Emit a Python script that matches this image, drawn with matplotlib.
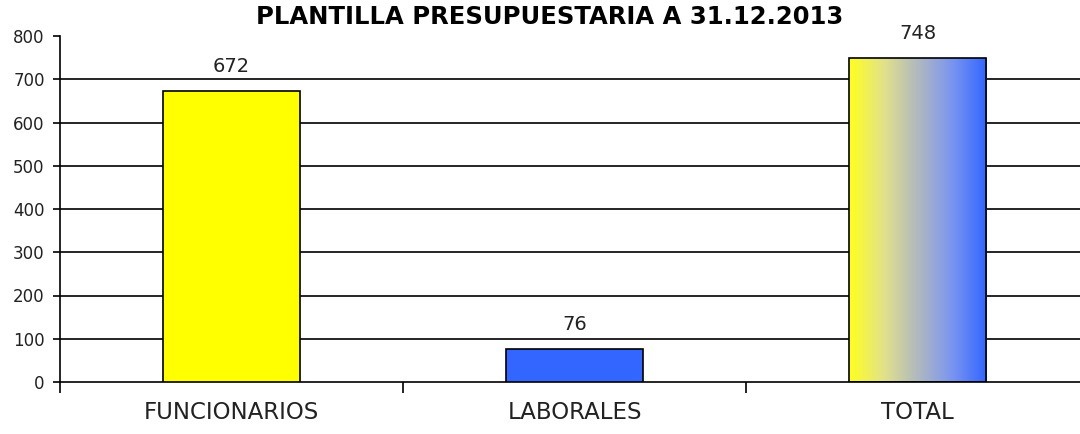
import numpy as np
import matplotlib
matplotlib.use("Agg")
from matplotlib import pyplot as plt
from matplotlib.colors import LinearSegmentedColormap

# datos
categorias = ["FUNCIONARIOS", "LABORALES", "TOTAL"]
valores = [672, 76, 748]
titulo = "PLANTILLA PRESUPUESTARIA A 31.12.2013"

plt.rcParams['font.family'] = ['DejaVu Sans']

fig = plt.figure(figsize=(10.8, 4.34), dpi=100)
# eje: x de 60 a ~1089 px, y de 382 a 36 px
ax = fig.add_axes([60/1080, (434-382)/434, 1029/1080, 346/434])

x = np.arange(len(categorias))
barras = ax.bar(x, valores, width=0.4, color=["#FFFF00", "#3366FF", "none"],
                edgecolor="black", linewidth=1.2, zorder=3)

# degradado amarillo -> azul en la barra TOTAL
cmap = LinearSegmentedColormap.from_list("deg", ["#FFFF20", "#E2E28A", "#B0B8C0", "#7A95F0", "#3366FF"])
b = barras[2]
grad = np.linspace(0, 1, 256).reshape(1, -1)
img = ax.imshow(grad, cmap=cmap, aspect="auto", zorder=2,
                extent=(b.get_x(), b.get_x() + b.get_width(), 0, b.get_height()))
img.set_clip_path(b)

for xi, v in zip(x, valores):
    ax.text(xi, v + 58, str(v), ha="center", va="center", fontsize=14, color="#222222")

ax.set_xlim(-0.5, 2.5)
ax.set_ylim(0, 800)
ax.set_yticks(range(0, 801, 100))
ax.set_xticks([-0.5, 0.5, 1.5, 2.5])
ax.set_xticklabels([])
ax.set_xticks(x, minor=True)
ax.set_xticklabels(categorias, minor=True, fontsize=16.5, color="#222222")
ax.tick_params(axis="x", which="minor", length=0, pad=14)
ax.tick_params(axis="x", which="major", length=8, width=1.2, direction="out")
ax.tick_params(axis="y", length=5, width=1.2, labelsize=12, pad=6, labelcolor="#222222")

for yv in range(100, 800, 100):
    ax.axhline(yv, color="black", linewidth=1.2, zorder=1)

for s in ["top", "right"]:
    ax.spines[s].set_visible(False)
ax.spines["left"].set_linewidth(1.2)
ax.spines["bottom"].set_linewidth(1.2)

fig.text(550/1080, 1 - 17/434, titulo, ha="center", va="center",
         fontsize=17.5, fontweight="heavy")

fig.savefig("out.png", dpi=100)
